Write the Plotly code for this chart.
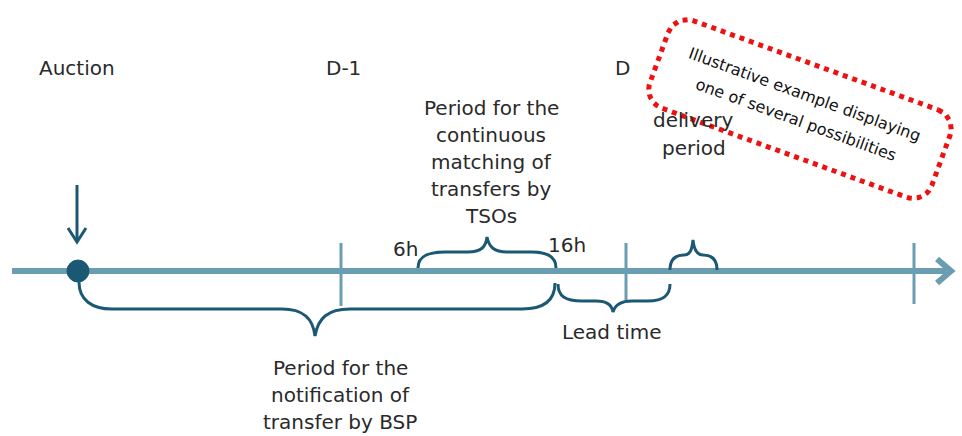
import math
import plotly.graph_objects as go

# ---- diagram content ----
event_labels = ["Auction", "D-1", "D"]
event_pos = [77, 341, 626]          # positions on the timeline (px-scale units)
end_tick = 914
hour_labels = ["6h", "16h"]
hour_pos = [418, 556]
delivery_span = [670, 717]
tso_lines = ["Period for the", "continuous", "matching of", "transfers by", "TSOs"]
bsp_lines = ["Period for the", "notification of", "transfer by BSP"]
lead_label = "Lead time"
delivery_lines = ["delivery", "period"]
note_lines = ["Illustrative example displaying", "one of several possibilities"]

W, H = 962, 436
AXIS_Y = 271
LIGHT = "#6a9cb2"
DARK = "#1b5874"
TXT = "#2a2a2a"
FONT = "DejaVu Sans"
FS = 20

fig = go.Figure()
shapes = []
ann = []

def line(x0, y0, x1, y1, color, width):
    shapes.append(dict(type="line", x0=x0, y0=y0, x1=x1, y1=y1,
                       line=dict(color=color, width=width), layer="above"))

def path(d, color=DARK, width=3):
    shapes.append(dict(type="path", path=d, line=dict(color=color, width=width),
                       layer="above"))

def text(s, x, y, size=FS, angle=0, color=TXT):
    ann.append(dict(text=s, x=x, y=y, xref="x", yref="y", showarrow=False,
                    font=dict(family=FONT, size=size, color=color),
                    textangle=angle, xanchor="center", yanchor="middle"))

# main axis
line(12, AXIS_Y, 946, AXIS_Y, LIGHT, 6)
path(f"M 937 {AXIS_Y-12} L 951 {AXIS_Y} L 937 {AXIS_Y+12}", LIGHT, 6)

# ticks
line(event_pos[1], 243, event_pos[1], 306, LIGHT, 3)
line(event_pos[2], 243, event_pos[2], 300, LIGHT, 3)
line(end_tick, 243, end_tick, 304, LIGHT, 3)

# auction arrow and dot
line(event_pos[0], 185, event_pos[0], 241, DARK, 3)
path(f"M {event_pos[0]-9} 228 L {event_pos[0]} 242 L {event_pos[0]+9} 228", DARK, 3)
shapes.append(dict(type="circle", x0=event_pos[0]-10, x1=event_pos[0]+12, y0=AXIS_Y-11, y1=AXIS_Y+11,
                   fillcolor=DARK, line=dict(color=DARK, width=1), layer="above"))

# braces
a0 = event_pos[0] + 2
b1 = hour_pos[1] - 1
path(f"M {a0} 282 C {a0} 300, 92 309, 112 309 L 282 309 "
     f"C 303 309, 313 318, 315 336 C 318 318, 328 309, 350 309 L 522 309 "
     f"C 545 309, {b1} 300, {b1} 283")
h0, h1 = hour_pos
path(f"M {h0} 268 C {h0} 256, 428 252, 445 252 L 468 252 "
     f"C 481 252, 486 247, 487 237 C 489 247, 494 252, 507 252 L 532 252 "
     f"C 549 252, {h1} 258, {h1} 268")
path(f"M 558 284 C 558 296, 565 301, 582 301 L 596 301 "
     f"C 606 301, 612 305, 613 312 C 615 305, 621 301, 632 301 L 648 301 "
     f"C 664 301, 670 295, 670 284")
d0, d1 = delivery_span
path(f"M {d0} 270 C {d0} 259, 676 255, 684 255 C 690 255, 692 250, 693 240 "
     f"C 694 250, 697 255, 703 255 C 711 255, {d1} 259, {d1} 270")

# labels
text(event_labels[0], 77, 68)
text(event_labels[1], 343, 68)
text(event_labels[2], 622, 68)
for i, s in enumerate(tso_lines):
    text(s, 491, 108 + 27 * i)
text(hour_labels[0], 405, 249)
text(hour_labels[1], 567, 245)
for i, s in enumerate(bsp_lines):
    text(s, 340, 368 + 27 * i)
text(lead_label, 612, 332)
text(delivery_lines[0], 693, 120)
text(delivery_lines[1], 694, 148)

# rotated red dotted rounded box
cx, cy, bw, bh, r, ang = 800, 109, 300, 93, 20, math.radians(20)
pts = []
corners = [(bw/2 - r, -bh/2 + r, -90), (bw/2 - r, bh/2 - r, 0),
           (-bw/2 + r, bh/2 - r, 90), (-bw/2 + r, -bh/2 + r, 180)]
for (ux, uy, start) in corners:
    for k in range(0, 10):
        t = math.radians(start + 9 * k)
        pts.append((ux + r * math.cos(t), uy + r * math.sin(t)))
    t = math.radians(start + 90)
    pts.append((ux + r * math.cos(t), uy + r * math.sin(t)))
pts.append(pts[0])
xs, ys = [], []
ca, sa = math.cos(ang), math.sin(ang)
for (px, py) in pts:
    xs.append(cx + px * ca - py * sa)
    ys.append(cy + px * sa + py * ca)
fig.add_trace(go.Scatter(x=xs, y=ys, mode="lines", hoverinfo="skip",
                         line=dict(color="#ee1111", width=5, dash="dot")))

# note text rotated
tx, ty, off = 800, 107, 13
for i, s in enumerate(note_lines):
    o = -off if i == 0 else off
    text(s, tx - o * sa, ty + o * ca, size=16, angle=20, color="#111111")

fig.update_layout(
    width=W, height=H, margin=dict(l=0, r=0, t=0, b=0),
    paper_bgcolor="white", plot_bgcolor="white", showlegend=False,
    xaxis=dict(range=[0, W], visible=False, fixedrange=True),
    yaxis=dict(range=[H, 0], visible=False, fixedrange=True),
    shapes=shapes, annotations=ann,
)
fig.write_html("out.html", config={"displayModeBar": False},
               post_script="document.body.style.margin='0';document.body.style.overflow='hidden';")
